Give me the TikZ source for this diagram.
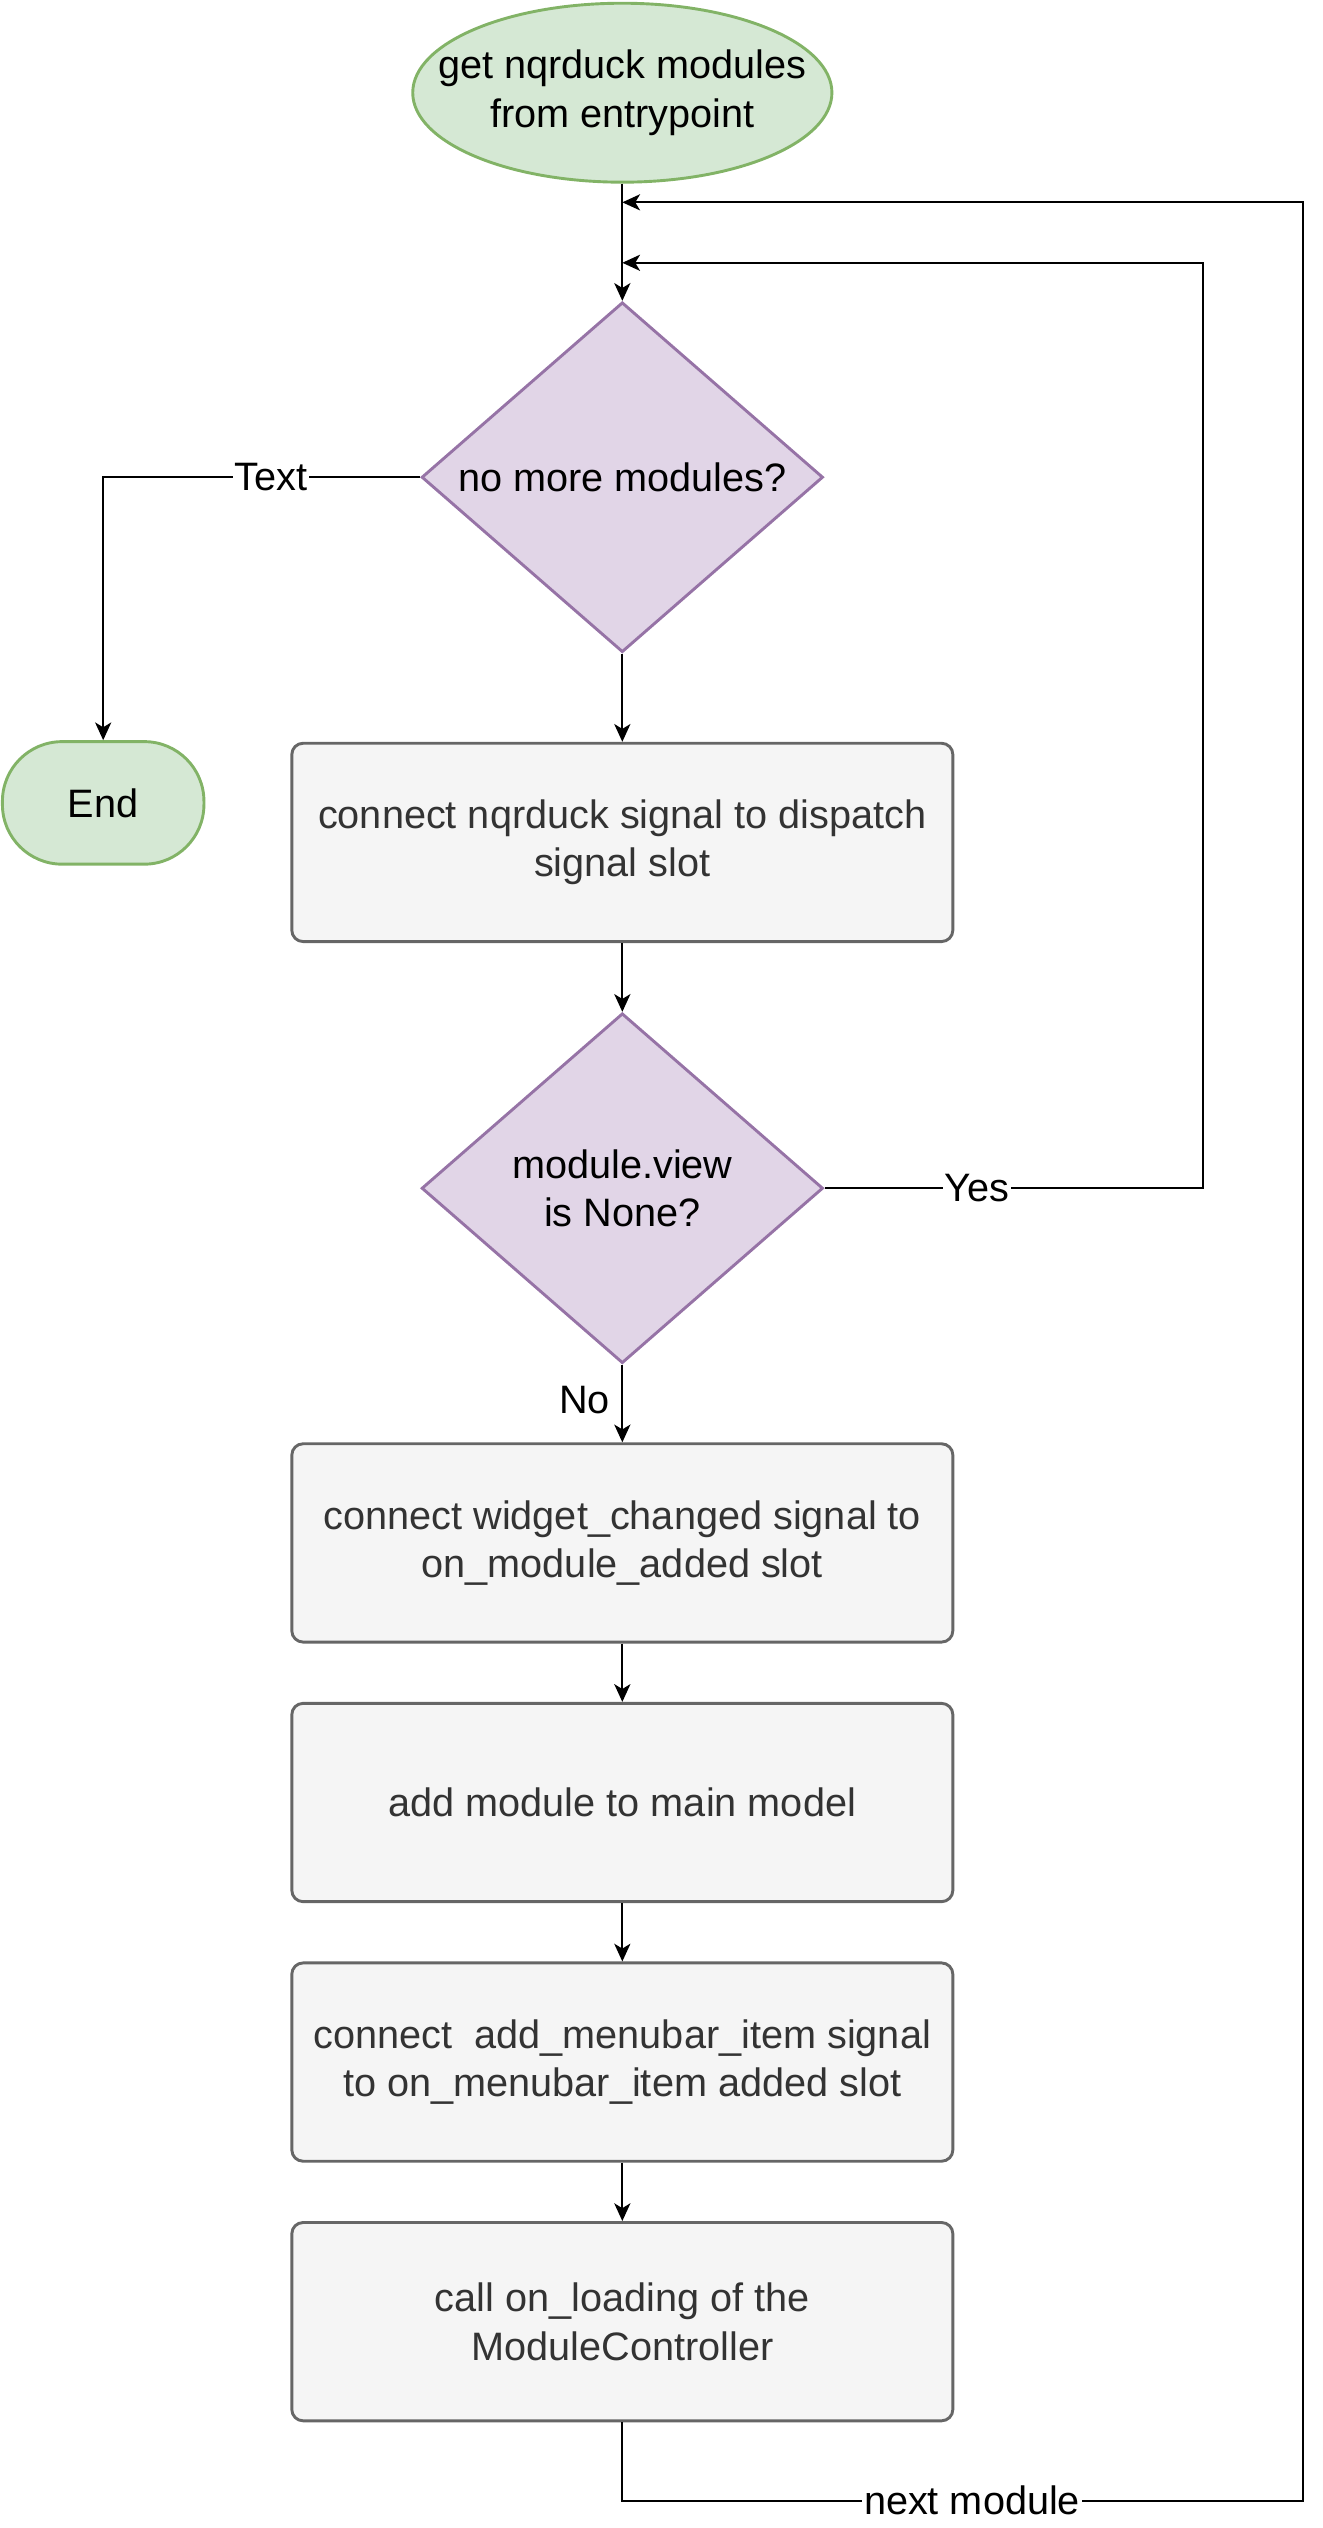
\documentclass[tikz,border=0pt]{standalone}
\usepackage{fontspec}
\setmainfont{Liberation Sans}
\usetikzlibrary{shapes.geometric}
\usetikzlibrary{arrows.meta}
\definecolor{termfill}{HTML}{D5E8D4}
\definecolor{termline}{HTML}{82B366}
\definecolor{askfill}{HTML}{E1D5E7}
\definecolor{askline}{HTML}{9673A6}
\definecolor{stepfill}{HTML}{F5F5F5}
\definecolor{stepline}{HTML}{666666}
\definecolor{steptext}{HTML}{333333}
\tikzset{
  term/.style={ellipse, draw=termline, fill=termfill, line width=1.8bp, minimum width=260bp, minimum height=111bp, inner xsep=-30bp, inner ysep=0pt, align=center},
  stopnode/.style={rectangle, rounded corners=37bp, draw=termline, fill=termfill, line width=1.8bp, minimum width=125bp, minimum height=76bp, inner sep=0pt},
  ask/.style={diamond, draw=askline, fill=askfill, line width=1.8bp, minimum width=249bp, minimum height=217bp, shape aspect=1.15, inner sep=0pt, align=center},
  stepbox/.style={rectangle, rounded corners=7bp, draw=stepline, fill=stepfill, text=steptext, line width=1.8bp, minimum width=410bp, minimum height=123bp, inner sep=0pt, align=center},
  flow/.style={line width=1.25bp, -{Stealth[length=11bp, width=10bp, inset=3bp]}},
  lbl/.style={fill=white, inner sep=1bp}
}
\begin{document}
\begin{tikzpicture}[x=1bp, y=-1bp, font=\fontsize{24.6bp}{30bp}\selectfont]
\useasboundingbox (0,0) rectangle (820,1568);
\node[term] (start) at (386,57.5) {get nqrduck modules\\from entrypoint};
\node[ask] (more) at (386,296) {no more modules?};
\node[stopnode] (stop) at (64,498) {End};
\node[stepbox] (connect) at (386,522.5) {connect nqrduck signal to dispatch\\signal slot};
\node[ask] (view) at (386,737) {module.view\\is None?};
\node[stepbox] (widget) at (386,957) {connect widget\_changed signal to\\on\_module\_added slot};
\node[stepbox] (addmod) at (386,1118) {add module to main model};
\node[stepbox] (menubar) at (386,1279) {connect\ \ add\_menubar\_item signal\\to on\_menubar\_item added slot};
\node[stepbox] (loading) at (386,1440) {call on\_loading of the\\ModuleController};
\coordinate (outerin) at (386,125.5);
\coordinate (innerin) at (386,163);
\coordinate (outer) at (808,1551);
\coordinate (inner) at (746,163);
\draw[flow] (start.south) -- (more.north);
\draw[flow] (more.west) -| node[lbl, pos=0.235] {Text} (stop.north);
\draw[flow] (more.south) -- (connect.north);
\draw[flow] (connect.south) -- (view.north);
\draw[flow] (view.east) -| node[lbl, pos=0.202] {Yes} (inner) -- (innerin);
\draw[flow] (view.south) -- node[left, pos=0.45, inner sep=7bp] {No} (widget.north);
\draw[flow] (widget.south) -- (addmod.north);
\draw[flow] (addmod.south) -- (menubar.north);
\draw[flow] (menubar.south) -- (loading.north);
\draw[flow] (loading.south) |- node[lbl, pos=0.757] {next module} (outer) |- (outerin);
\end{tikzpicture}
\end{document}
